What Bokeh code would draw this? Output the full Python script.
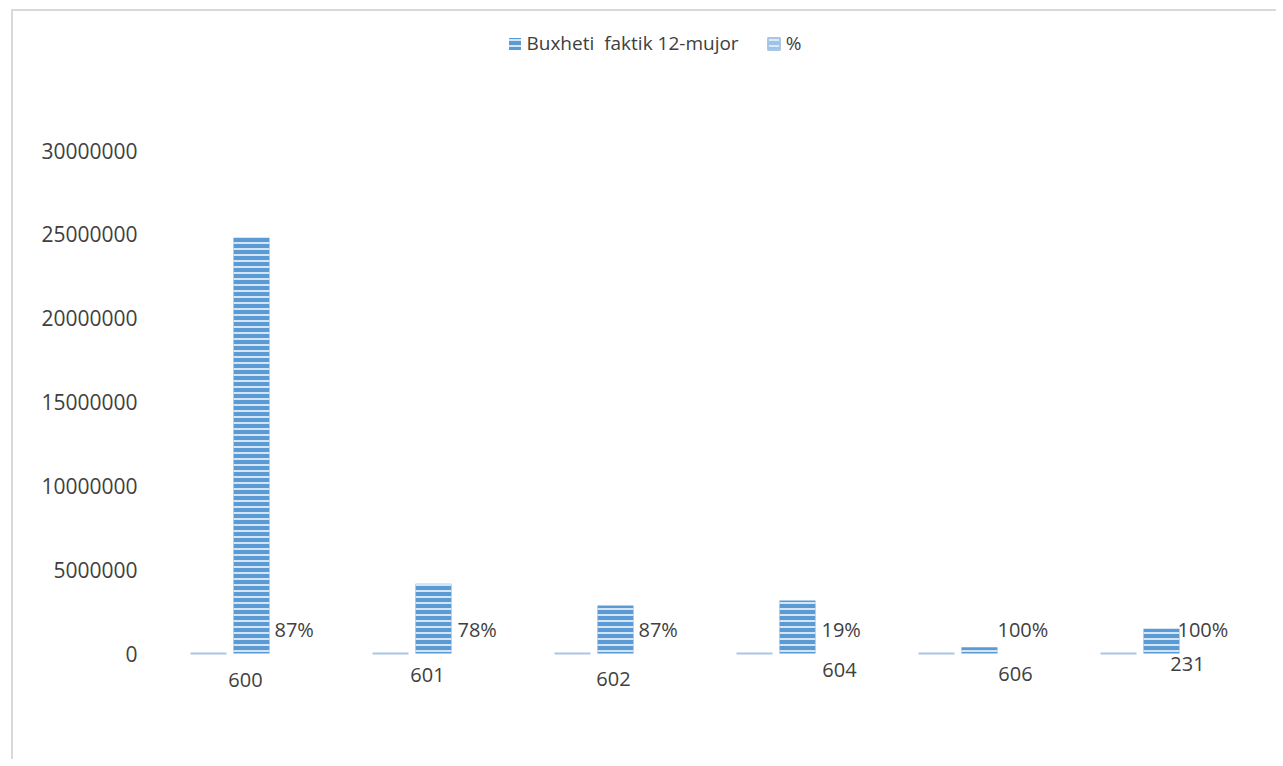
from bokeh.plotting import figure
from bokeh.models import (Range1d, FixedTicker, NumeralTickFormatter, Legend, LegendItem,
                          ColumnDataSource)
from bokeh.core.properties import value
from bokeh.embed import file_html
from bokeh.resources import INLINE

# ---- data ----
categories = ["600", "601", "602", "604", "606", "231"]
buxheti = [24790000, 4160000, 2860000, 3160000, 380000, 1470000]
percent = [0.87, 0.78, 0.87, 0.19, 1.00, 1.00]
percent_labels = ["87%", "78%", "87%", "19%", "100%", "100%"]
y_ticks = [0, 5000000, 10000000, 15000000, 20000000, 25000000, 30000000]

# ---- layout helpers (pixel offsets for labels) ----
cat_dx = [15.5, 15.5, 19.5, 63.5, 57.5, 47.5]
cat_dy = [26, 21, 25, 16, 20, 10]
pct_dx = [5, 6, 5, 6, 0, -2]

FONT = "Open Sans"
TXT = "#404040"
BLUE = "#5B9BD5"
LIGHT = "#9DC3E6"

OX, OY = 13, 11          # page position of the canvas
W, H = 1265, 750
MB_LEFT, MB_RIGHT = 125, 5
frame_left_page = OX + MB_LEFT
frame_w = W - MB_LEFT - MB_RIGHT
x_start = -0.5 - (229.5 - 91 - frame_left_page) / 182
x_end = x_start + frame_w / 182
px_per_m = 503 / 30.0
y_end = 30e6 + (150 - OY) / px_per_m * 1e6
y_start = -(OY + H - 653) / px_per_m * 1e6

p = figure(width=W, height=H, output_backend="svg", toolbar_location=None,
           x_range=Range1d(x_start, x_end), y_range=Range1d(y_start, y_end),
           min_border_left=MB_LEFT, min_border_right=MB_RIGHT, min_border_top=0, min_border_bottom=0)
p.styles = {"margin-left": "11px", "margin-top": "9px",
            "border-left": "2px solid #D9D9D9", "border-top": "2px solid #D9D9D9"}
p.outline_line_color = None
p.xgrid.visible = False
p.ygrid.visible = False
p.xaxis.visible = False
p.background_fill_color = "white"
p.border_fill_color = "white"

yax = p.yaxis[0]
yax.ticker = FixedTicker(ticks=y_ticks)
yax.formatter = NumeralTickFormatter(format="0")
yax.axis_line_color = None
yax.major_tick_line_color = None
yax.minor_tick_line_color = None
yax.major_tick_out = 0
yax.major_tick_in = 0
yax.major_label_standoff = 1
yax.major_label_text_font = FONT
yax.major_label_text_font_size = "21px"
yax.major_label_text_color = TXT

idx = list(range(len(categories)))
src = ColumnDataSource(dict(
    x=idx,
    x_pct=[i - 0.118 for i in idx],
    x_bux=[i + 0.118 for i in idx],
    x_lab=[i + 0.217 for i in idx],
    bux=buxheti, pct=percent, pct_labels=percent_labels, cats=categories,
    cat_dx=cat_dx, cat_dy=cat_dy, pct_dx=pct_dx,
))

r_pct = p.vbar(x="x_pct", top="pct", bottom=0, width=0.198, source=src,
               fill_color=LIGHT, line_color="#A9C6E6", line_width=2,
               hatch_pattern="-", hatch_color="#DCE9F6", hatch_scale=6, hatch_weight=2)
r_bux = p.vbar(x="x_bux", top="bux", bottom=0, width=0.198, source=src,
               fill_color=BLUE, line_color=None,
               hatch_pattern="-", hatch_color="#D6E5F4", hatch_scale=6, hatch_weight=2)

p.text(x="x_lab", y=0, text="pct_labels", source=src, x_offset="pct_dx", y_offset=-24,
       text_align="left", text_baseline="middle", text_font=value(FONT),
       text_font_size="20px", text_color=TXT)
p.text(x="x", y=0, text="cats", source=src, x_offset="cat_dx", y_offset="cat_dy",
       text_align="center", text_baseline="middle", text_font=value(FONT),
       text_font_size="20px", text_color=TXT)

legend = Legend(items=[LegendItem(label="Buxheti  faktik 12-mujor", renderers=[r_bux]),
                       LegendItem(label="%", renderers=[r_pct])],
                orientation="horizontal", location=(506.5 - frame_left_page, OY + H - 56),
                padding=0, margin=0, spacing=27, label_standoff=5,
                glyph_width=15, glyph_height=15, label_height=20,
                label_text_font=FONT, label_text_font_size="19px", label_text_color=TXT,
                border_line_color=None, background_fill_alpha=0)
p.add_layout(legend, "center")

open("out.html", "w").write(file_html(p, INLINE))
